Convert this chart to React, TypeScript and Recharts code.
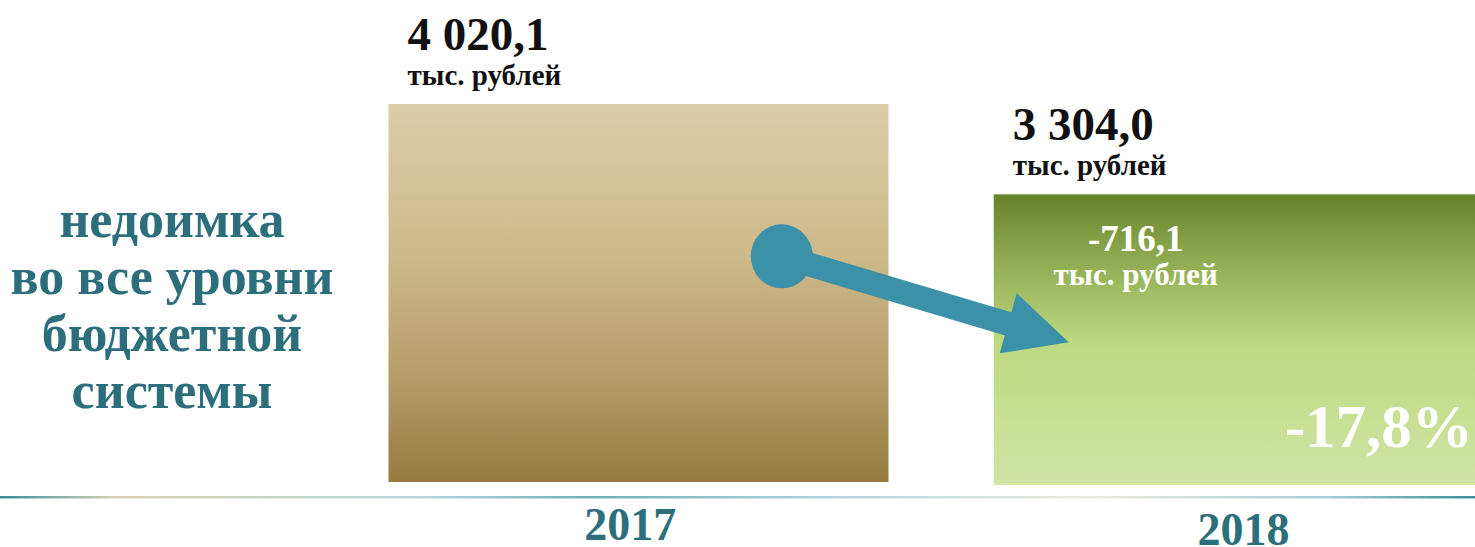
import React from 'react';
import { BarChart, Bar, XAxis, YAxis, LabelList, Customized } from 'recharts';

// arrears to all budget levels, thousand roubles
const years = ['2017', '2018'];
const amounts = [4020.1, 3304.0];
const unitLabel = 'тыс. рублей';
const sideCaption = ['недоимка', 'во все уровни', 'бюджетной', 'системы'];

const data = years.map((year, i) => ({ year, amount: amounts[i] }));

const TEAL = '#2C6E7B';
const ARROW = '#3A91A8';
const FONT = '"Liberation Serif", "DejaVu Serif", serif';
// the 2018 block sits a few pixels lower on the slide
const SECOND_DROP = 5;

const fmt = (v: number) => {
  const [int, dec] = Math.abs(v).toFixed(1).split('.');
  return (v < 0 ? '-' : '') + int.replace(/\B(?=(\d{3})+(?!\d))/g, ' ') + ',' + dec;
};

const diff = amounts[1] - amounts[0];
const pct = (diff / amounts[0]) * 100;

function GradientBar(props: any) {
  const { x, y, width, height, index } = props;
  const h = index === 0 ? height - 3 : height + 3;
  return (
    <g>
      <defs>
        <linearGradient id="g2017" x1="0" y1="0" x2="0" y2="1">
          <stop offset="0%" stopColor="#DCCDA9" />
          <stop offset="40%" stopColor="#CDB98A" />
          <stop offset="72%" stopColor="#B69D69" />
          <stop offset="100%" stopColor="#957B3F" />
        </linearGradient>
        <linearGradient id="g2018" x1="0" y1="0" x2="0" y2="1">
          <stop offset="0%" stopColor="#66822A" />
          <stop offset="18%" stopColor="#87A44A" />
          <stop offset="50%" stopColor="#BCD97F" />
          <stop offset="100%" stopColor="#D2E4A6" />
        </linearGradient>
      </defs>
      <rect x={x} y={y} width={width} height={h} fill={index === 0 ? 'url(#g2017)' : 'url(#g2018)'} />
      {index === 1 && (
        <g fill={ARROW}>
          <line x1={x - 212} y1={y + 62} x2={x + 19} y2={y + 131} stroke={ARROW} strokeWidth={24} />
          <ellipse cx={x - 212} cy={y + 62} rx={31} ry={32} />
          <polygon points={`${x + 75},${y + 148} ${x + 23},${y + 99} ${x + 6},${y + 159}`} />
        </g>
      )}
    </g>
  );
}

function ValueLabel(props: any) {
  const { x, y, value, index } = props;
  return (
    <g fontFamily={FONT}>
      <text x={x + 19} y={y - 54} fontSize={47} fontWeight="bold" fill="#111">{fmt(value)}</text>
      <text x={x + 19} y={y - 19} fontSize={29} fontWeight="bold" fill="#111">{unitLabel}</text>
      {index === 1 && (
        <g fill="#fff" fontWeight="bold">
          <text x={x + 142} y={y + 57} fontSize={37} textAnchor="middle">{fmt(diff)}</text>
          <text x={x + 142} y={y + 91} fontSize={31} textAnchor="middle">{unitLabel}</text>
          <text x={x + 479} y={y + 253} fontSize={61} textAnchor="end">{fmt(pct) + '%'}</text>
        </g>
      )}
    </g>
  );
}

function YearTick(props: any) {
  const { x, y, payload, index } = props;
  return (
    <text x={x + (index === 0 ? -8 : 0)} y={y + 47 + (index === 1 ? SECOND_DROP : 0)} textAnchor="middle"
      fontFamily={FONT} fontSize={46} fontWeight="bold" fill={TEAL}>
      {payload.value}
    </text>
  );
}

function Backdrop() {
  return (
    <g>
      <defs>
        <linearGradient id="baseLine" x1="0" y1="0" x2="1" y2="0">
          <stop offset="0%" stopColor="#3B8E9C" />
          <stop offset="8%" stopColor="#D9D2B4" />
          <stop offset="28%" stopColor="#B9D8DA" />
          <stop offset="40%" stopColor="#6FB0BC" />
          <stop offset="58%" stopColor="#B8D8DC" />
          <stop offset="74%" stopColor="#EDEAE0" />
          <stop offset="90%" stopColor="#A6CDD3" />
          <stop offset="100%" stopColor="#3B8E9C" />
        </linearGradient>
      </defs>
      <rect x={0} y={496} width={1475} height={2.5} fill="url(#baseLine)" />
      <g fontFamily={FONT} fontSize={52} fontWeight="bold" fill={TEAL} textAnchor="middle">
        {sideCaption.map((line, i) => (
          <text key={line} x={172} y={237 + i * 57}>{line}</text>
        ))}
      </g>
    </g>
  );
}

export default function App() {
  return (
    <div style={{ position: 'absolute', left: 0, top: 0, width: 1475, height: 547, overflow: 'hidden', background: '#fff' }}>
      <BarChart width={1546} height={547} data={data} margin={{ top: 104, right: 0, bottom: 0, left: 335.5 }} barSize={500}>
        <Customized component={Backdrop} />
        <XAxis dataKey="year" height={62} axisLine={false} tickLine={false} tick={<YearTick />} interval={0} />
        <YAxis hide domain={[1000, 4020.1]} allowDataOverflow />
        <Bar dataKey="amount" shape={<GradientBar />} isAnimationActive={false}>
          <LabelList dataKey="amount" content={<ValueLabel />} />
        </Bar>
      </BarChart>
    </div>
  );
}
